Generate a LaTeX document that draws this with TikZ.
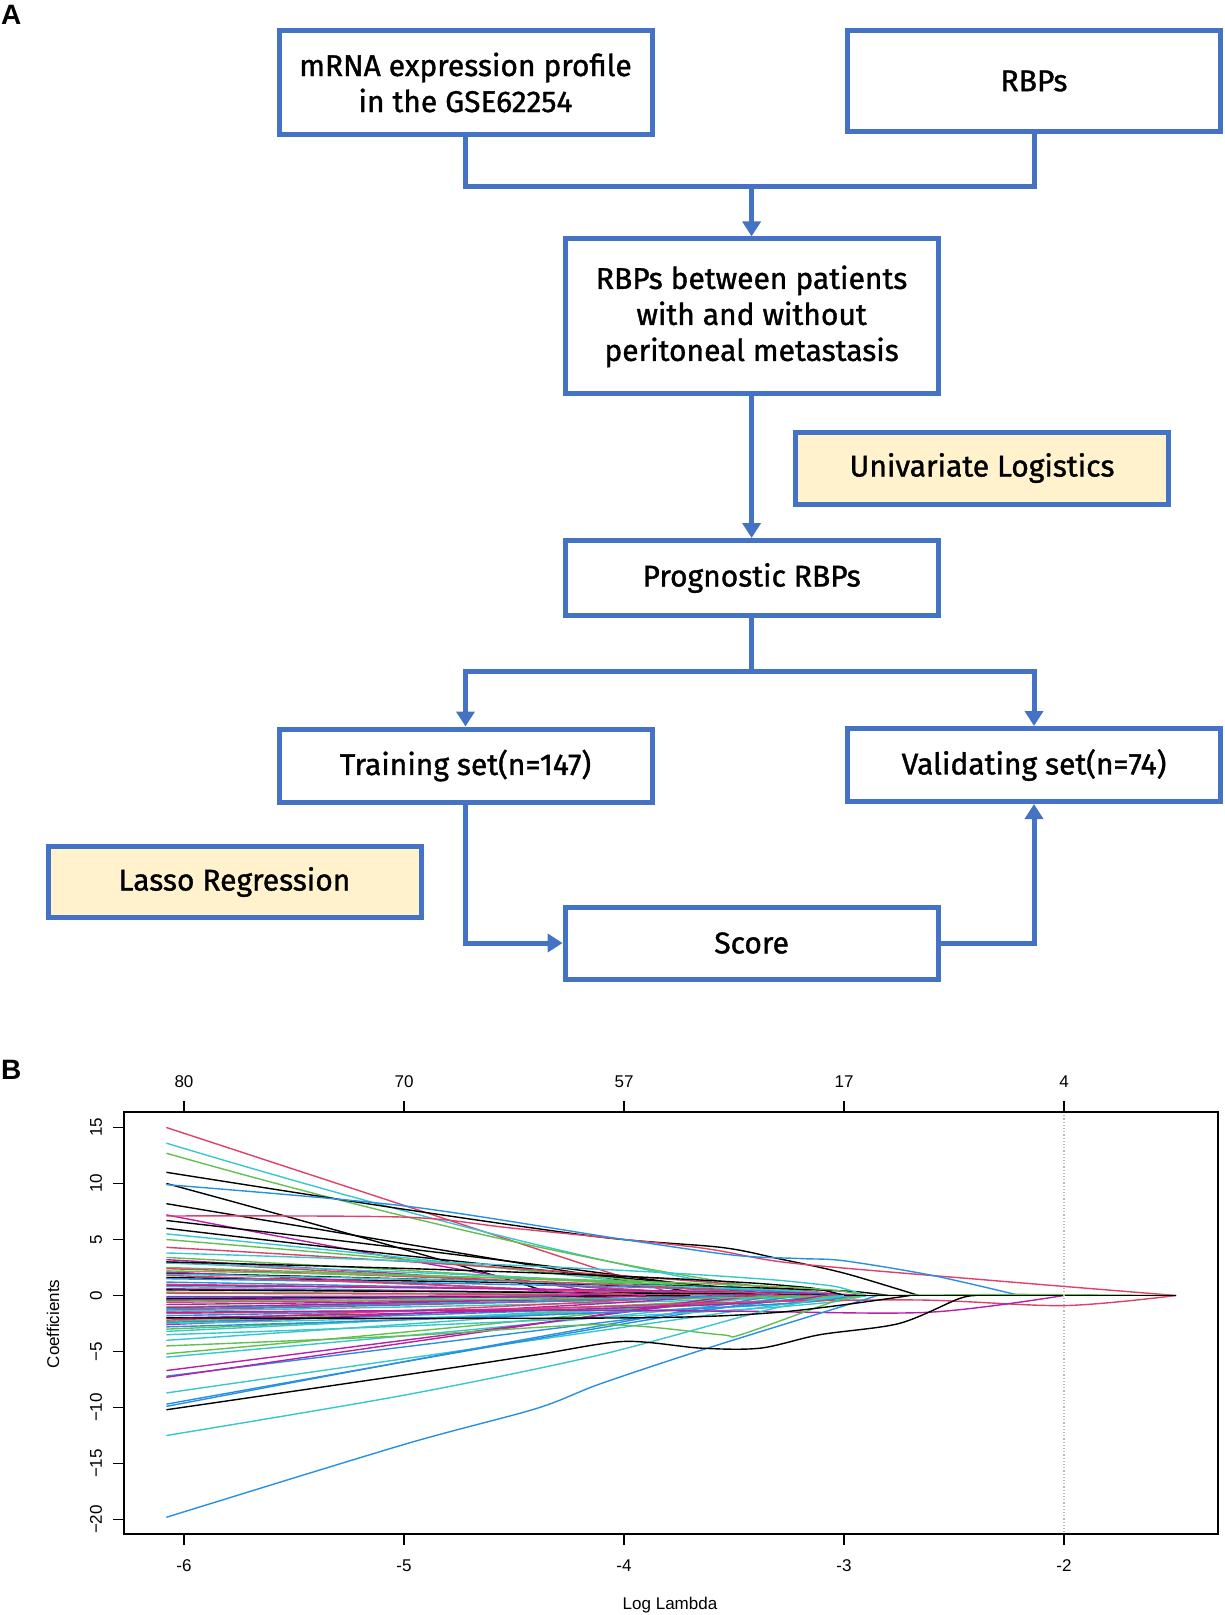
\documentclass[tikz,border=0pt]{standalone}
\usepackage{fontspec}
\setmainfont{Fira Sans}[FakeBold=1.2]
\newfontfamily\plotfont{Liberation Sans}
\usetikzlibrary{arrows.meta}
\definecolor{boxblue}{HTML}{4472C4}
\definecolor{cream}{HTML}{FFF2CC}
\definecolor{rred}{HTML}{E0406A}
\definecolor{rgreen}{HTML}{61C04F}
\definecolor{rblue}{HTML}{2790E0}
\definecolor{rcyan}{HTML}{36C8CC}
\definecolor{rmag}{HTML}{B81FA8}
\newcommand\flowfont{\fontsize{30}{36}\selectfont}
\newcommand\tickfont{\plotfont\fontsize{17}{20}\selectfont}
\tikzset{
  box/.style={draw=boxblue, line width=5pt, fill=white, minimum width=373pt, align=center, font=\flowfont, inner sep=0pt},
  notebox/.style={box, fill=cream},
  conn/.style={draw=boxblue, line width=5pt},
  arr/.style={conn, -{Triangle[length=15pt,width=18pt]}},
  coef/.style={line width=1.4pt},
  panel/.style={font=\plotfont\bfseries\fontsize{28}{30}\selectfont, inner sep=0pt, anchor=north west},
}
\begin{document}
\begin{tikzpicture}[x=1pt,y=-1pt]
\useasboundingbox (0,0) rectangle (1225,1615);
% ---------------- panel A
\node[panel] (lA) at (1,5) {A};
\node[box, minimum height=104pt] (mrna) at (465.5,82.5) {mRNA expression profile\\in the GSE62254};
\node[box, minimum height=101pt] (rbps) at (1034,81) {RBPs};
\node[box, minimum height=155pt] (betw) at (751.6,316.4) {RBPs between patients\\with and without\\peritoneal metastasis};
\node[notebox, minimum height=72pt] (uni) at (982,468) {Univariate Logistics};
\node[box, minimum height=75pt] (prog) at (751.6,578) {Prognostic RBPs};
\node[box, minimum height=73pt] (train) at (465.5,765.5) {Training set(n=147)};
\node[box, minimum height=73pt] (valid) at (1034,765) {Validating set(n=74)};
\node[notebox, minimum height=71pt] (lasso) at (234.5,882) {Lasso Regression};
\node[box, minimum height=72pt] (score) at (751.6,943) {Score};
\coordinate (j1) at (751.6,186.5);
\coordinate (j2) at (751.6,671.8);
\draw[conn] (mrna.south) -- (mrna.south |- j1) -- (rbps.south |- j1) -- (rbps.south);
\draw[arr] (j1) -- (betw.north);
\draw[arr] (betw.south) -- (prog.north);
\draw[conn] (prog.south) -- (j2);
\draw[arr] (j2) -| (train.north);
\draw[arr] (j2) -| (valid.north);
\draw[arr] (train.south) |- (score.west);
\draw[arr] (score.east) -| (valid.south);
% ---------------- panel B
\node[panel] (lB) at (1,1060) {B};
% curves
\begin{scope}[shift={(1504,1295.5)}, x=220pt, y=11.2pt]
\foreach \c/\a/\b/\p in {
 rred/15/-3.75/1.0, rcyan/13.6/-3.2/1.25, rgreen/12.7/-3.0/1.35, black/10/-4.3/0.95,
 black/8.2/-3.6/1.0, rmag/7.2/-4.0/1.1, black/6.7/-3.4/0.9, black/6/-3.0/1.2,
 rcyan/5.5/-3.5/0.9, rgreen/5/-3.3/0.9, rred/4.3/-3.0/0.8, rgreen/3.4/-3.4/0.8,
 rmag/3.2/-3.8/0.8, rred/3/-3.6/0.9, rcyan/2.9/-3.2/0.7, rgreen/2.5/-3.0/0.7,
 black/2/-3.3/0.6, black/1.6/-2.8/0.5, rblue/1.2/-3.6/0.7, rred/1/-3.2/0.7,
 rcyan/0.8/-3.9/0.8, rmag/0.6/-3.4/0.7, black/0.5/-3.0/0.7, rgreen/0.3/-3.6/0.8,
 rred/0.2/-3.1/0.8, rmag/-0.1/-3.5/0.8, rblue/-0.2/-3.3/0.8, rcyan/-0.4/-3.6/0.8,
 rred/-0.6/-3.0/0.7, rmag/-0.8/-3.4/0.7, rgreen/-1/-3.2/0.7, rred/-1.3/-3.5/0.8,
 rcyan/-1.4/-3.1/0.7, rblue/-1.8/-2.9/0.6, rgreen/-2.3/-3.3/0.7, rblue/-2.4/-3.0/0.7,
 rmag/-2.6/-3.6/0.8, rgreen/-3/-3.0/0.8, rcyan/-3.2/-3.3/0.8, rred/-2.2/-3.7/0.8,
 rcyan/-4/-3.3/0.9, rgreen/-5.2/-3.4/0.9, rcyan/-5.5/-3.2/0.9, rmag/-6.7/-3.4/1,
 rblue/-7.2/-3.1/1, rmag/-7.3/-3.5/1, rcyan/-8.7/-3.0/1, rblue/-9.7/-3.2/1.05,
 rblue/-9.9/-3.3/1.05, rmag/2.1/-4.1/0.8, rblue/1.5/-3.0/0.6, rred/1.8/-3.9/0.8,
 black/-0.3/-3.7/1.0, rmag/-1.1/-3.9/0.8, rcyan/1.9/-3.0/0.6, rgreen/-0.5/-2.9/0.6,
 rmag/0.9/-2.9/0.6, rblue/-1.2/-3.5/0.8, rred/2.4/-3.3/0.7, rmag/-0.4/-4.2/0.8,
 rcyan/3.8/-2.9/0.5, black/3/-3.0/0.5, rcyan/-3.5/-2.9/0.6, rcyan/-2.5/-3.0/0.5,
 rgreen/2.2/-2.9/0.5, rblue/-2.8/-2.95/0.6, rmag/-2.0/-3.1/0.5}
 \draw[coef,\c] plot[domain=-6.08:\b, samples=25, smooth] (\x,{\a*max(((\b)-(\x))/((\b)+6.08),0.0001)^\p});
% special curves
\draw[coef,black] plot[smooth] coordinates {(-6.08,11) (-5,7.7) (-4.1,5.2) (-3.56,4.3) (-3.3,3.3) (-3,2) (-2.66,0)};
\draw[coef,rred] plot[smooth] coordinates {(-6.08,7.1) (-5,7.0) (-4.5,6) (-3.67,4.3) (-3.24,2.9) (-2.3,1.3) (-1.49,0)};
\draw[coef,rblue] plot[smooth] coordinates {(-6.08,9.9) (-5,8.0) (-4,5) (-3.5,3.6) (-3.2,3.3) (-3.0,3.1) (-2.6,1.8) (-2.2,0)};
\draw[coef,rred] plot[smooth] coordinates {(-6.08,-1.6) (-4.5,-1.2) (-3.5,-0.6) (-2.66,-0.4) (-2,-0.9) (-1.49,0)};
\draw[coef,rmag] plot[smooth] coordinates {(-6.08,-1.5) (-4.5,-1.3) (-3.5,-1.4) (-2.62,-1.5) (-2,0)};
\draw[coef,rgreen] plot[smooth] coordinates {(-6.08,-4.5) (-5,-3.6) (-4.1,-2.6) (-3.56,-3.5) (-3.47,-3.5) (-3.04,-0.5) (-2.9,0)};
\draw[coef,rcyan] plot[smooth] coordinates {(-6.08,-12.5) (-5,-8.9) (-4.11,-5.3) (-3.33,-1.2) (-3.0,0)};
\draw[coef,rblue] plot[smooth] coordinates {(-6.08,-19.8) (-5,-13.3) (-4.4,-10.1) (-4.11,-7.9) (-3.62,-4.7) (-2.93,-0.5) (-2.85,0)};
\draw[coef,black] plot[smooth] coordinates {(-6.08,-2) (-4,-2.0) (-3.3,-1.5) (-2.7,0)};
\draw[coef,black] plot[smooth] coordinates {(-6.08,-10.2) (-5,-7.1) (-4.4,-5.3) (-4,-4.1) (-3.65,-4.7) (-3.38,-4.7) (-3.11,-3.5) (-2.75,-2.5) (-2.48,-0.3) (-2.4,0)};
\draw[coef,rgreen] (-2.9,0) -- (-2.2,0.1) -- (-1.49,0);
\draw[coef,black] (-3.0,0) -- (-1.49,0);
\end{scope}
% axes
\draw[gray!55, dotted, line width=1.2pt] (1064,1112) -- (1064,1534);
\draw[line width=1.6pt] (124,1112) rectangle (1218,1534);
\foreach \px/\lb/\tp in {184/-6/80, 404/-5/70, 624/-4/57, 844/-3/17, 1064/-2/4} {
  \draw[line width=1.2pt] (\px,1534) -- (\px,1545);
  \draw[line width=1.2pt] (\px,1112) -- (\px,1101);
  \node[font=\tickfont] at (\px,1566) {\lb};
  \node[font=\tickfont] at (\px,1082) {\tp};
}
\foreach \v/\lb in {15/15, 10/10, 5/5, 0/0, -5/−5, -10/−10, -15/−15, -20/−20} {
  \draw[line width=1.2pt] (124,{1295.5-11.2*\v}) -- (113,{1295.5-11.2*\v});
  \node[font=\tickfont, rotate=90] at (96,{1295.5-11.2*\v}) {\lb};
}
\node[font=\tickfont, rotate=90] (ylab) at (53,1324) {Coefficients};
\node[font=\tickfont] (xlab) at (670,1605) {Log Lambda};
\end{tikzpicture}
\end{document}
